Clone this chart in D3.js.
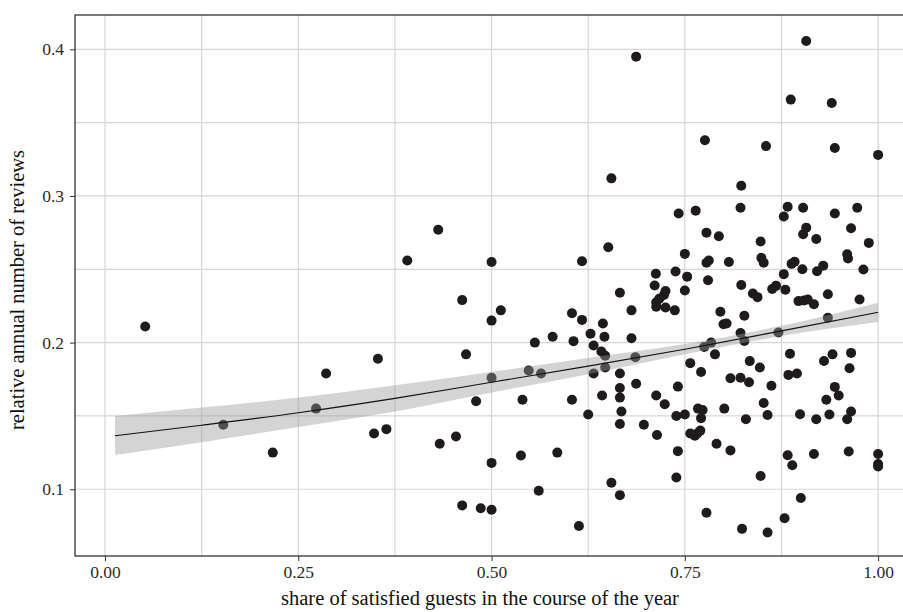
<!DOCTYPE html>
<html>
<head>
<meta charset="utf-8">
<script src="https://cdn.jsdelivr.net/npm/d3@7"></script>
<style>
  body { margin: 0; background: #fff; }
  svg { display: block; }
</style>
</head>
<body>
<div id="graph1"></div>
<script>
const w = 903;
const h = 612;

// share of satisfied guests / relative annual number of reviews
const shareSatisfied = [
    0.052, 0.153, 0.217, 0.273, 0.286, 0.353, 0.348, 0.364, 0.391, 0.431,
    0.433, 0.454, 0.462, 0.467, 0.480, 0.462, 0.486, 0.500, 0.500, 0.512,
    0.500, 0.500, 0.500, 0.540, 0.538, 0.548, 0.556, 0.564, 0.561, 0.579,
    0.585, 0.604, 0.606, 0.604, 0.613, 0.617, 0.617, 0.625, 0.628, 0.632,
    0.632, 0.643, 0.644, 0.646, 0.642, 0.647, 0.647, 0.651, 0.655, 0.655,
    0.666, 0.666, 0.666, 0.666, 0.668, 0.666, 0.666, 0.681, 0.681, 0.686,
    0.687, 0.687, 0.697, 0.711, 0.713, 0.713, 0.717, 0.723, 0.725, 0.725,
    0.737, 0.7125, 0.738, 0.742, 0.750, 0.753, 0.750, 0.764, 0.776, 0.778,
    0.794, 0.778, 0.781, 0.807, 0.780, 0.714, 0.713, 0.724, 0.741, 0.739,
    0.750, 0.741, 0.739, 0.757, 0.771, 0.767, 0.773, 0.771, 0.757, 0.763,
    0.766, 0.770, 0.775, 0.784, 0.789, 0.796, 0.800, 0.804, 0.778, 0.791,
    0.801, 0.809, 0.809, 0.822, 0.833, 0.822, 0.827, 0.827, 0.834, 0.847,
    0.829, 0.852, 0.857, 0.862, 0.871, 0.886, 0.884, 0.895, 0.899, 0.920,
    0.937, 0.930, 0.941, 0.935, 0.935, 0.976, 0.965, 0.963, 0.944, 0.949,
    0.933, 0.965, 0.960, 0.883, 0.889, 0.917, 0.962, 1.000, 1.000, 1.000,
    0.848, 0.900, 0.879, 0.824, 0.857, 0.897, 0.904, 0.909, 0.917, 0.823,
    0.838, 0.844, 0.863, 0.868, 0.880, 0.907, 0.887, 0.940, 0.855, 0.944,
    1.000, 0.823, 0.822, 0.883, 0.903, 0.973, 0.878, 0.944, 0.907, 0.903,
    0.920, 0.965, 0.988, 0.848, 0.849, 0.852, 0.888, 0.892, 0.902, 0.921,
    0.929, 0.960, 0.961, 0.981, 0.878
];
const relReviews = [
    0.211, 0.144, 0.125, 0.155, 0.179, 0.189, 0.138, 0.141, 0.256, 0.277,
    0.131, 0.136, 0.229, 0.192, 0.160, 0.089, 0.087, 0.255, 0.215, 0.222,
    0.176, 0.118, 0.086, 0.161, 0.123, 0.181, 0.200, 0.179, 0.099, 0.204,
    0.125, 0.220, 0.201, 0.161, 0.075, 0.2155, 0.2555, 0.151, 0.206, 0.198,
    0.179, 0.164, 0.213, 0.204, 0.194, 0.191, 0.183, 0.265, 0.312, 0.1045,
    0.234, 0.179, 0.169, 0.1625, 0.153, 0.1445, 0.096, 0.222, 0.203, 0.190,
    0.172, 0.395, 0.144, 0.239, 0.2245, 0.2275, 0.230, 0.2325, 0.2352, 0.224,
    0.222, 0.247, 0.2485, 0.288, 0.2355, 0.245, 0.2605, 0.290, 0.338, 0.275,
    0.2725, 0.2545, 0.256, 0.255, 0.2425, 0.137, 0.164, 0.158, 0.170, 0.150,
    0.151, 0.126, 0.108, 0.186, 0.180, 0.155, 0.154, 0.1485, 0.138, 0.1365,
    0.138, 0.140, 0.197, 0.200, 0.192, 0.221, 0.2125, 0.213, 0.084, 0.131,
    0.155, 0.1265, 0.1757, 0.176, 0.173, 0.2066, 0.2011, 0.2183, 0.1874, 0.183,
    0.1478, 0.1588, 0.1506, 0.1706, 0.2069, 0.1924, 0.178, 0.179, 0.1511, 0.1477,
    0.151, 0.1875, 0.192, 0.217, 0.233, 0.2294, 0.193, 0.1825, 0.1698, 0.1639,
    0.1611, 0.153, 0.1477, 0.1232, 0.1164, 0.124, 0.1257, 0.124, 0.1172, 0.1155,
    0.1091, 0.0941, 0.0802, 0.073, 0.0705, 0.2283, 0.2287, 0.2294, 0.2262, 0.2393,
    0.2335, 0.231, 0.2366, 0.2387, 0.236, 0.4057, 0.3657, 0.3634, 0.334, 0.3327,
    0.328, 0.307, 0.292, 0.2927, 0.292, 0.292, 0.286, 0.288, 0.2784, 0.2739,
    0.2707, 0.278, 0.268, 0.269, 0.2578, 0.2545, 0.2537, 0.2552, 0.250, 0.2487,
    0.2525, 0.2602, 0.2573, 0.2498, 0.2467
];

// fitted curve and its confidence band
const fitX  = [0.013, 0.125, 0.25, 0.375, 0.5, 0.625, 0.75, 0.875, 1.0];
const fitY  = [0.1365, 0.1437, 0.1522, 0.1620, 0.1730, 0.1840, 0.1955, 0.2080, 0.2207];
const fitLo = [0.1234, 0.1320, 0.1425, 0.1530, 0.1660, 0.1785, 0.1920, 0.2045, 0.2140];
const fitHi = [0.1500, 0.1557, 0.1625, 0.1710, 0.1800, 0.1895, 0.1990, 0.2115, 0.2272];

const xTicks = [0, 0.25, 0.5, 0.75, 1];
const yTicks = [0.1, 0.2, 0.3, 0.4];
const xGrid = [0, 0.125, 0.25, 0.375, 0.5, 0.625, 0.75, 0.875, 1];
const yGrid = [0.1, 0.15, 0.2, 0.25, 0.3, 0.35, 0.4];

const margin = { left: 75, top: 15, right: -13, bottom: 56 };
const serif = "'Liberation Serif', 'DejaVu Serif', serif";

const x = d3.scaleLinear()
    .domain([-0.0388, 1.049])
    .range([margin.left, w - margin.right]);
const y = d3.scaleLinear()
    .domain([0.0545, 0.4234])
    .range([h - margin.bottom, margin.top]);

const svg = d3.select("#graph1")
    .append("svg")
    .attr("width", w)
    .attr("height", h);

svg.append("clipPath")
    .attr("id", "panel")
    .append("rect")
    .attr("x", x.range()[0])
    .attr("y", y.range()[1])
    .attr("width", x.range()[1] - x.range()[0])
    .attr("height", y.range()[0] - y.range()[1]);

const plot = svg.append("g").attr("clip-path", "url(#panel)");

// grid
plot.selectAll(".vgrid")
    .data(xGrid)
    .enter()
    .append("line")
    .attr("x1", d => x(d)).attr("x2", d => x(d))
    .attr("y1", y.range()[1]).attr("y2", y.range()[0])
    .style("stroke", "#d6d6d6")
    .style("stroke-width", 1.2);

plot.selectAll(".hgrid")
    .data(yGrid)
    .enter()
    .append("line")
    .attr("y1", d => y(d)).attr("y2", d => y(d))
    .attr("x1", x.range()[0]).attr("x2", x.range()[1])
    .style("stroke", "#d6d6d6")
    .style("stroke-width", 1.2);

// points
plot.selectAll("circle")
    .data(shareSatisfied.map((d, i) => [d, relReviews[i]]))
    .enter()
    .append("circle")
    .attr("cx", d => x(d[0]))
    .attr("cy", d => y(d[1]))
    .attr("r", 5)
    .style("fill", "#1f1b1c");

// smooth band + line
const band = fitX.map((d, i) => ({ x: d, lo: fitLo[i], hi: fitHi[i], y: fitY[i] }));

plot.append("path")
    .datum(band)
    .attr("d", d3.area()
        .x(d => x(d.x))
        .y0(d => y(d.lo))
        .y1(d => y(d.hi))
        .curve(d3.curveMonotoneX))
    .style("fill", "#999999")
    .style("opacity", 0.42);

plot.append("path")
    .datum(band)
    .attr("d", d3.line()
        .x(d => x(d.x))
        .y(d => y(d.y))
        .curve(d3.curveMonotoneX))
    .style("fill", "none")
    .style("stroke", "#111")
    .style("stroke-width", 1.1);

// panel border
svg.append("rect")
    .attr("x", x.range()[0])
    .attr("y", y.range()[1])
    .attr("width", x.range()[1] - x.range()[0])
    .attr("height", y.range()[0] - y.range()[1])
    .style("fill", "none")
    .style("stroke", "#222")
    .style("stroke-width", 1.2);

// axes
const xAxis = svg.append("g")
    .attr("transform", "translate(0," + y.range()[0] + ")")
    .call(d3.axisBottom(x).tickValues(xTicks).tickFormat(d3.format(".2f")).tickSize(5).tickPadding(5));
xAxis.select(".domain").remove();

const yAxis = svg.append("g")
    .attr("transform", "translate(" + x.range()[0] + ",0)")
    .call(d3.axisLeft(y).tickValues(yTicks).tickFormat(d3.format(".1f")).tickSize(5).tickPadding(6));
yAxis.select(".domain").remove();

svg.selectAll(".tick line").style("stroke", "#333");
svg.selectAll(".tick text")
    .style("font-family", serif)
    .style("font-size", "17.5px")
    .style("fill", "#2b2b2b");

// titles
svg.append("text")
    .attr("x", 480)
    .attr("y", 605)
    .attr("text-anchor", "middle")
    .style("font-family", serif)
    .style("font-size", "20.5px")
    .style("fill", "#111")
    .text("share of satisfied guests in the course of the year");

svg.append("text")
    .attr("transform", "translate(24,290) rotate(-90)")
    .attr("text-anchor", "middle")
    .style("font-family", serif)
    .style("font-size", "20.5px")
    .style("fill", "#111")
    .text("relative annual number of reviews");
</script>
</body>
</html>
